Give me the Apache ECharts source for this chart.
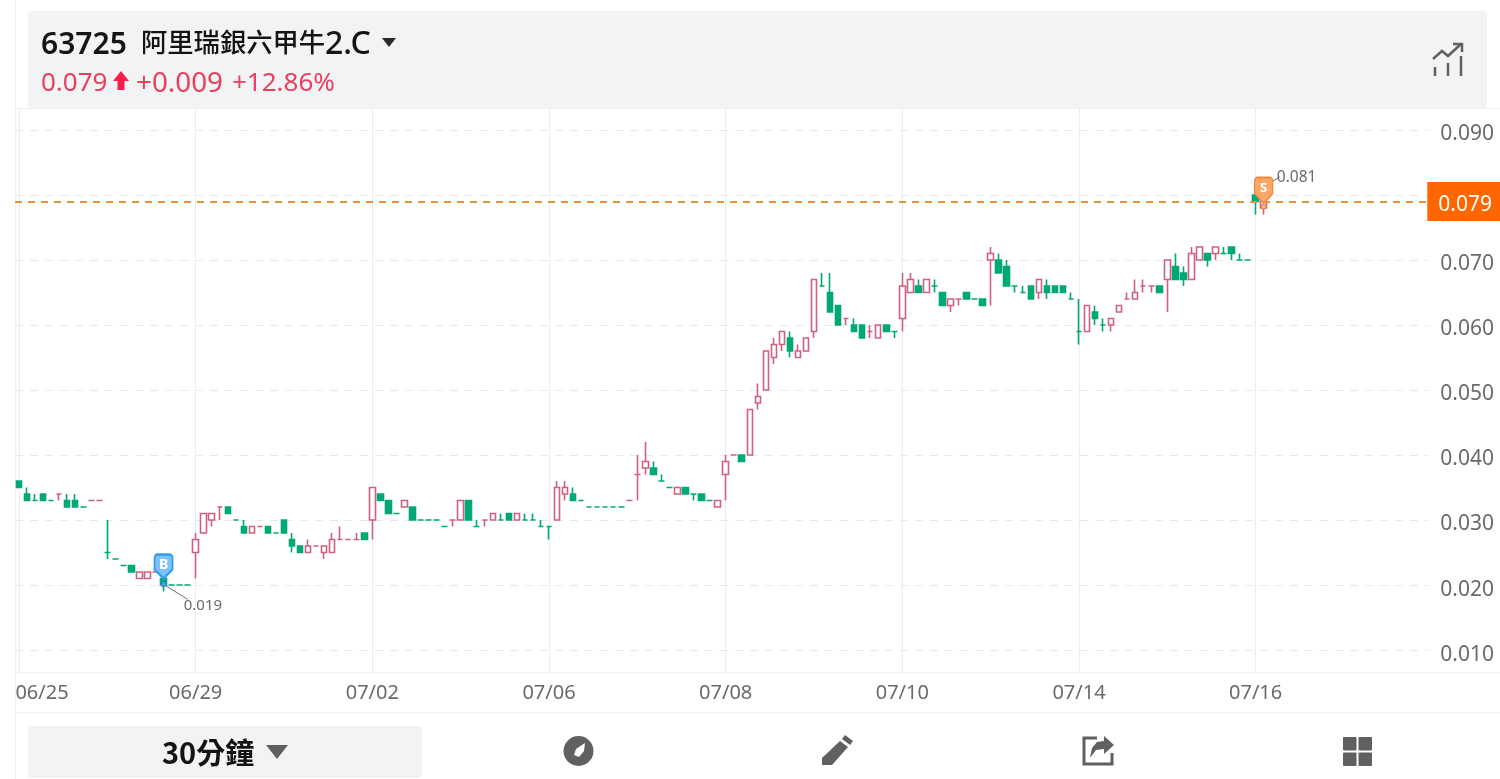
<!DOCTYPE html>
<html>
<head>
<meta charset="utf-8">
<title>63725 阿里瑞銀六甲牛2.C</title>
<script src="https://cdn.jsdelivr.net/npm/echarts@6/dist/echarts.min.js"></script>
<style>html,body{margin:0;padding:0;background:#fff}#chart{width:1500px;height:779px}</style>
</head>
<body>
<div id="chart"></div>
<script>
// 30-minute candles, prices in thousandths of a dollar
const opens = [36,34,33,34,33,34,33,33,32,33,33,25,24,23,23,21,21,22,21,20,20,20,25,28,30,32,32,30,29,28,29,29,28,30,27,26,25,26,25,25,27,27,27,28,30,34,33,31,32,32,30,30,30,29,30,30,33,29,30,30,30,31,30,30,30,29,29,30,34,34,33,32,32,32,32,32,33,37,38,38,36,35,34,35,34,34,33,32,37,40,40,40,48,50,55,57,58,55,56,59,66,65,63,61,60,60,59,58,60,59,61,65,66,65,66,65,63,64,65,64,64,70,70,69,66,65,66,65,66,66,66,64,59,59,62,60,60,62,64,64,66,66,66,67,69,68,67,70,71,71,71,72,70,70,80,78];
const closes = [35,33,33,33,33,34,32,32,32,33,33,25,24,23,22,22,22,22,20,20,20,20,27,31,31,32,31,30,28,29,29,28,28,28,26,25,26,26,26,27,27,27,27,27,35,33,31,31,33,30,30,30,30,29,30,33,30,29,30,31,30,30,31,30,30,29,29,35,35,33,33,32,32,32,32,32,33,37,39,37,36,35,35,34,34,33,33,33,39,40,39,47,49,56,57,59,56,56,58,67,66,62,60,61,59,58,59,60,59,59,66,67,65,67,66,63,64,64,64,64,63,71,68,66,66,65,64,67,65,65,65,64,59,63,61,60,61,63,64,65,66,66,65,70,67,67,71,72,70,72,71,71,70,70,79,79];
const lows = [35,33,33,33,33,33,32,32,32,33,33,24,24,23,22,21,21,22,19,20,20,20,21,28,29,30,31,30,28,28,29,28,28,28,25,25,25,26,24,25,27,27,27,27,27,33,31,31,32,30,30,30,30,29,29,30,30,29,29,30,30,30,30,30,30,29,27,30,33,33,33,32,32,32,32,32,33,33,37,37,36,35,34,34,33,33,33,32,33,40,39,40,47,50,54,56,55,55,56,58,66,62,60,60,59,58,58,58,59,58,59,65,65,65,65,63,62,63,64,64,63,63,68,66,65,65,64,64,64,65,65,64,57,59,60,59,59,62,64,64,65,65,65,62,67,66,67,70,69,70,71,70,70,70,77,77];
const highs = [36,35,34,34,33,34,34,34,32,33,33,30,24,23,23,22,22,22,21,20,20,20,28,31,31,32,32,30,30,29,29,29,28,30,28,26,27,26,26,28,29,27,28,28,35,34,33,31,33,32,30,30,30,29,30,33,33,30,30,31,31,31,31,31,31,30,29,36,36,35,33,32,32,32,32,32,33,40,42,39,37,35,35,35,34,34,33,33,40,40,40,47,51,56,58,59,59,57,58,67,68,68,63,61,61,60,60,60,60,59,68,68,67,67,67,65,64,64,65,64,64,72,71,70,66,66,66,67,67,66,66,65,64,63,63,61,61,63,65,67,67,66,66,70,71,69,72,72,71,72,72,72,71,70,81,79];
// Unchanged candles that are drawn in the rising colour
const flatRising = [5,9,10,17,25,30,37,40,41,42,54,58,76,77,89,103,106,117,138,140,141];
const dateLabels = ['06/25','06/29','07/02','07/06','07/08','07/10','07/14','07/16'];
const yTicks = [0.01,0.02,0.03,0.04,0.05,0.06,0.07,0.08,0.09];
const lastPrice = 0.079;
const buyIndex = 18;
const sellIndex = 155;

const SESSION_STEP = 22;     // candles between two date labels
const SLOT_COUNT = 176;      // room for the session still to come
const UP = '#d0607f', DOWN = '#00a876', LATIN = '"Noto Sans","Noto Sans CJK TC"', RED = '#e8405f', ICON = '#5f6062', AXIS_TEXT = '#6a6a6c';

const categories = [];
for (let i = 0; i < SLOT_COUNT; i++) {
  categories.push(i % SESSION_STEP === 0 ? (dateLabels[i / SESSION_STEP] || '') : '');
}
const candles = opens.map((o, i) => {
  const item = { value: [o / 1000, closes[i] / 1000, lows[i] / 1000, highs[i] / 1000] };
  if (o === closes[i]) {
    const c = flatRising.includes(i) ? UP : DOWN;
    item.itemStyle = { borderColorDoji: c, borderColor: c, borderColor0: c };
  }
  return item;
});
const lowest = Math.min(...lows) / 1000;
const highest = Math.max(...highs) / 1000;
const everyDate = (i) => i % SESSION_STEP === 0 && i / SESSION_STEP < dateLabels.length;

const pin = 'path://M3 0H15A3 3 0 0 1 18 3V15L9 24L0 15V3A3 3 0 0 1 3 0Z';

const text = (x, y, t, size, fill, extra) => ({
  type: 'text', x, y,
  style: Object.assign({ text: t, fontSize: size, fill, fontFamily: LATIN, verticalAlign: 'middle' }, extra || {}),
  silent: true
});
const poly = (points, fill) => ({ type: 'polygon', shape: { points }, style: { fill }, silent: true });
const stroke = (points, color, w) => ({ type: 'polyline', shape: { points }, style: { stroke: color, lineWidth: w, fill: 'none', lineCap: 'butt', lineJoin: 'miter' }, silent: true });
const box = (x, y, w, h, fill, r) => ({ type: 'rect', shape: { x, y, width: w, height: h, r: r || 0 }, style: { fill }, silent: true });

const frame = [
  box(15, 0, 1, 779, '#f1f1f2'),
  box(15, 108, 1485, 1, '#f1f1f2'),
  box(15, 672, 1485, 1, '#f1f1f2'),
  box(15, 712, 1485, 1, '#f1f1f2'),
  box(28, 11, 1459, 97, '#f2f3f5', 4),
  text(41, 45, '63725', 30, '#141414', { fontWeight: 600 }),
  text(141, 45, '阿里瑞銀六甲牛', 26.3, '#141414', { fontWeight: 500 }),
  text(325, 45, '2.C', 32, '#141414', { fontWeight: 500 }),
  poly([[382, 38], [396, 38], [389, 47]], '#2a2a2a'),
  text(41, 84, '0.079', 26, RED),
  poly([[121, 71], [129, 81], [124.5, 81], [124.5, 90], [117.5, 90], [117.5, 81], [113, 81]], '#f81e4c'),
  text(136, 84, '+0.009', 27.8, RED),
  text(232, 84, '+12.86%', 26, RED),
  stroke([[1435, 67], [1435, 76]], ICON, 2.5),
  stroke([[1448, 63], [1448, 76]], ICON, 2.5),
  stroke([[1461, 56], [1461, 76]], ICON, 2.5),
  stroke([[1433, 59], [1442, 51], [1448, 56], [1461, 44]], ICON, 2.5),
  stroke([[1453, 44], [1462, 44], [1462, 52]], ICON, 2.5),
  box(28, 726, 394, 52, '#f2f3f5', 3),
  text(162, 753, '30分鐘', 29, '#141414', { fontWeight: 700, fontFamily: '"Noto Sans CJK TC"' }),
  poly([[266, 745], [288, 745], [277, 759]], ICON),
  { type: 'circle', shape: { cx: 578.5, cy: 751, r: 15 }, style: { fill: ICON }, silent: true },
  poly([[585, 743], [584, 751], [579, 757], [574, 755], [576, 749]], '#ffffff'),
  poly([[845, 735], [853, 741], [850, 745], [842, 739]], ICON),
  poly([[840, 741], [848, 747], [832, 765], [822, 765], [822, 758]], ICON),
  stroke([[1097, 738], [1084, 738], [1084, 764], [1112, 764], [1112, 753]], ICON, 3),
  poly([[1104, 736], [1114, 745], [1104, 754], [1104, 749], [1096, 750], [1090, 758], [1092, 748], [1097, 742], [1104, 741]], ICON),
  box(1343, 737, 13.5, 13.5, ICON, 1),
  box(1358.5, 737, 13.5, 13.5, ICON, 1),
  box(1343, 752.5, 13.5, 13.5, ICON, 1),
  box(1358.5, 752.5, 13.5, 13.5, ICON, 1)
];

const connector = { lineStyle: { color: '#6f6f6f', type: 'solid', width: 1 }, label: { show: false } };

const chart = echarts.init(document.getElementById('chart'), null, { renderer: 'canvas' });
chart.setOption({
  animation: false,
  backgroundColor: '#ffffff',
  graphic: { elements: frame },
  grid: { left: 15, top: 108, width: 1413.3, height: 564, containLabel: false },
  xAxis: {
    type: 'category',
    data: categories,
    boundaryGap: true,
    axisLine: { show: false },
    axisTick: { show: false, alignWithLabel: true, interval: everyDate },
    splitLine: { show: true, alignWithLabel: true, interval: everyDate, lineStyle: { color: '#ececee', width: 1 } },
    axisLabel: {
      interval: everyDate,
      margin: 11,
      color: AXIS_TEXT,
      fontSize: 20,
      fontFamily: LATIN,
      hideOverlap: false,
      formatter: (v, i) => (i === 0 ? '{first|' + v + '}' : v),
      rich: { first: { padding: [0, 0, 0, 46], color: AXIS_TEXT, fontSize: 20, fontFamily: LATIN } }
    }
  },
  yAxis: {
    type: 'value',
    position: 'right',
    min: 0.00662,
    max: 0.09338,
    axisLine: { show: false },
    axisTick: { show: false, customValues: yTicks },
    splitLine: { show: true, lineStyle: { color: '#e9e9ea', type: [8, 7], width: 1 } },
    axisLabel: {
      customValues: yTicks,
      margin: 12,
      color: AXIS_TEXT,
      fontSize: 21,
      fontFamily: LATIN,
      formatter: (v) => '{price|' + v.toFixed(3) + '}',
      rich: { price: { padding: [9, 0, 0, 0], color: AXIS_TEXT, fontSize: 21, fontFamily: LATIN } }
    }
  },
  series: [{
    type: 'candlestick',
    data: candles,
    barWidth: 6,
    clip: false,
    itemStyle: { color: '#ffffff', color0: DOWN, borderColor: UP, borderColor0: DOWN, borderWidth: 1.6 },
    markLine: {
      silent: true,
      symbol: 'none',
      animation: false,
      precision: 4,
      data: [
        {
          yAxis: lastPrice,
          lineStyle: { color: '#e59243', type: [7, 6], width: 2.2 },
          label: {
            show: true, position: 'end', distance: -1,
            formatter: '{tag|' + lastPrice.toFixed(3) + '}',
            backgroundColor: '#ff6600',
            padding: [5, 10, 5, 11],
            rich: { tag: { padding: [8, 0, 0, 0], color: '#ffffff', fontSize: 21, fontFamily: LATIN } }
          }
        },
        [Object.assign({ coord: [buyIndex, lowest + 0.0011] }, connector), { coord: [buyIndex + 2.5, lowest - 0.0012] }],
        [Object.assign({ coord: [sellIndex + 0.7, 0.0820] }, connector), { coord: [sellIndex + 1.5, 0.0828] }]
      ]
    },
    markPoint: {
      silent: true,
      animation: false,
      data: [
        {
          coord: [buyIndex, 0.0210],
          symbol: pin, symbolSize: [18, 24], symbolOffset: [0, -12],
          itemStyle: { color: '#7cc2f8', borderColor: '#2f9bf0', borderWidth: 2 },
          label: { show: true, formatter: 'B', position: 'inside', offset: [0, -2], color: '#ffffff', fontSize: 14, fontWeight: 700, fontFamily: LATIN }
        },
        { coord: [buyIndex, lowest + 0.0011], symbol: 'circle', symbolSize: 5, itemStyle: { color: '#5a9be0', borderColor: '#2f7ec8', borderWidth: 1 }, label: { show: false } },
        {
          coord: [buyIndex + 2.5, lowest - 0.0012],
          symbol: 'circle', symbolSize: 0.1, itemStyle: { color: 'transparent' },
          label: { show: true, formatter: lowest.toFixed(3), position: 'right', distance: 0, offset: [-4, 6], color: AXIS_TEXT, fontSize: 15, fontFamily: LATIN }
        },
        {
          coord: [sellIndex, lastPrice],
          symbol: pin, symbolSize: [18, 26], symbolOffset: [0, -11],
          itemStyle: { color: '#f8a868', borderColor: '#f28a3c', borderWidth: 1.5 },
          label: { show: true, formatter: 'S', position: 'inside', offset: [0, -2], color: '#ffffff', fontSize: 13, fontWeight: 700, fontFamily: LATIN }
        },
        { coord: [sellIndex, 0.0782], symbol: 'circle', symbolSize: 5, itemStyle: { color: '#f6b48a', borderColor: '#e07a35', borderWidth: 1 }, label: { show: false } },
        {
          coord: [sellIndex + 1.5, 0.0828],
          symbol: 'circle', symbolSize: 0.1, itemStyle: { color: 'transparent' },
          label: { show: true, formatter: highest.toFixed(3), position: 'right', distance: 0, offset: [-3, 1], color: AXIS_TEXT, fontSize: 15.5, fontFamily: LATIN }
        }
      ]
    }
  }]
});
</script>
</body>
</html>
